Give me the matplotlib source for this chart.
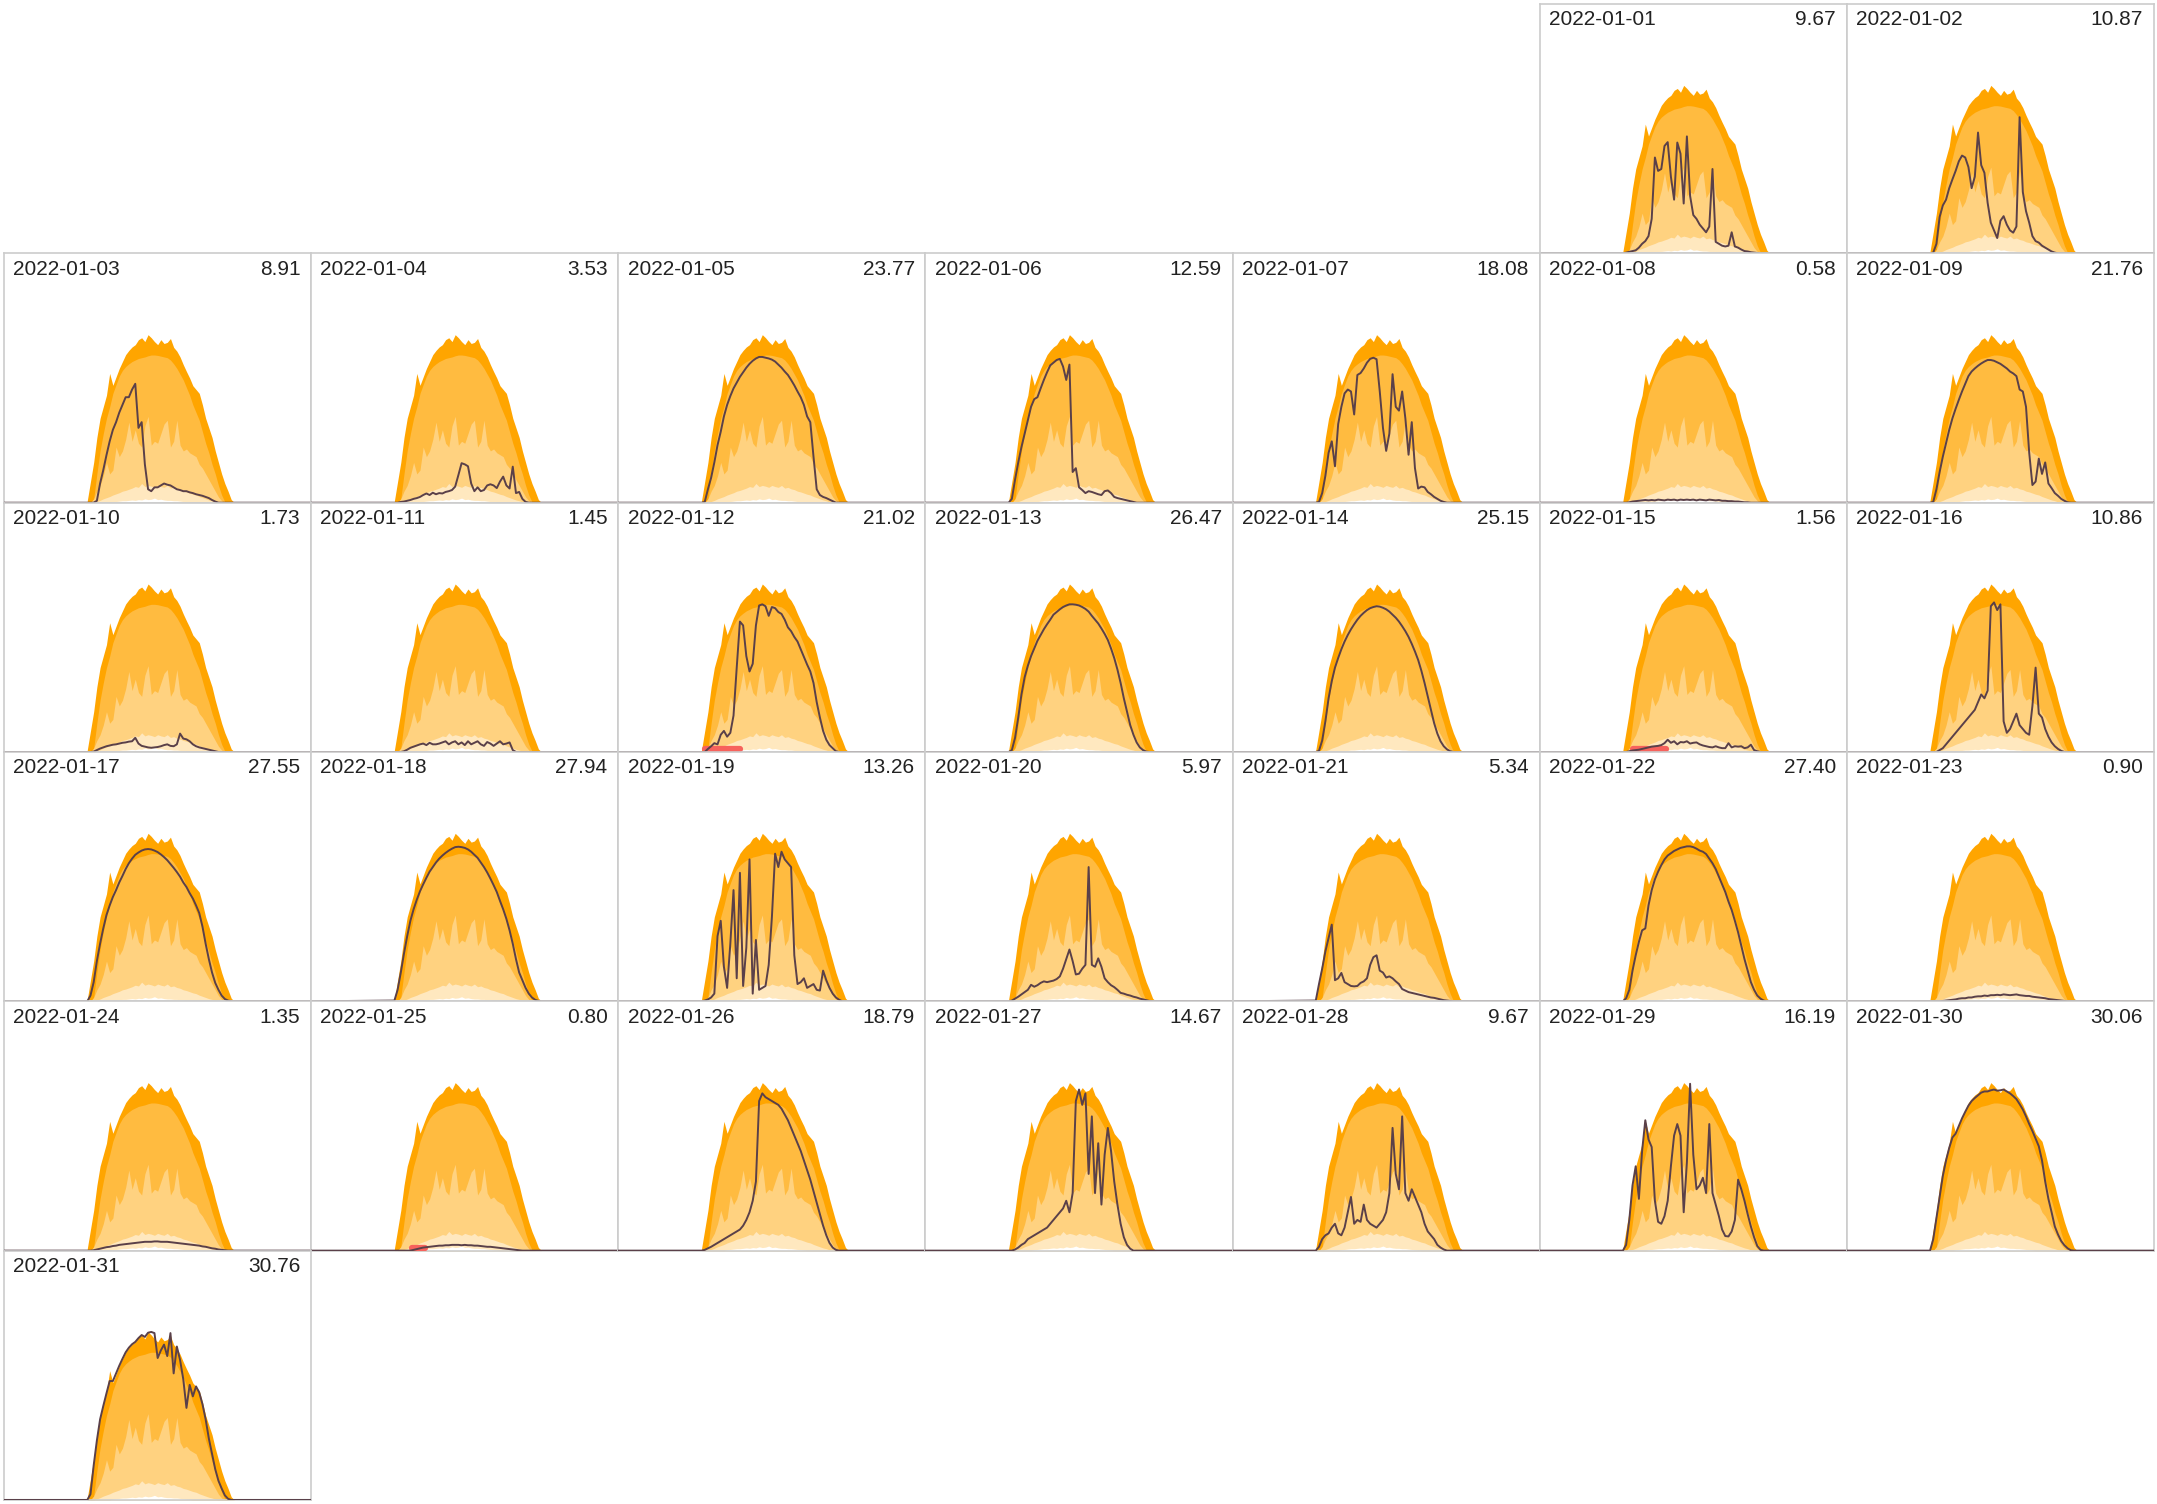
import datetime
import numpy as np
import matplotlib
matplotlib.use('Agg')
import matplotlib.pyplot as plt

plt.rcParams['font.family'] = ['Liberation Sans', 'DejaVu Sans']

# 15 minute grid, 6:30 .. 18:00
hours = np.arange(6.5, 18.01, 0.25)

# expected production bands (kW), same for every day
q_max = [0.05, 0.55, 1.05, 1.7, 2.2, 2.5, 2.8, 3.37, 3.06, 3.28, 3.5, 3.68, 3.86, 3.97, 4.06, 4.12,
         4.25, 4.3, 4.2, 4.38, 4.3, 4.2, 4.12, 4.25, 4.15, 4.18, 4.28, 4.05, 3.95, 3.8, 3.6, 3.42,
         3.25, 3.05, 2.95, 2.85, 2.55, 2.2, 1.95, 1.7, 1.35, 1.05, 0.75, 0.5, 0.3, 0.08, 0.0]
q_high = [0, 0, 0.1, 0.75, 1.35, 1.8, 2.2, 2.5, 2.85, 3.08, 3.3, 3.45, 3.55, 3.62, 3.68, 3.72,
          3.76, 3.78, 3.8, 3.83, 3.85, 3.85, 3.84, 3.82, 3.8, 3.78, 3.72, 3.62, 3.5, 3.35, 3.2, 3.0,
          2.8, 2.55, 2.35, 2.15, 1.85, 1.55, 1.3, 1.0, 0.75, 0.45, 0.2, 0.02, 0, 0, 0]
q_mid = [0, 0, 0.1, 0.3, 0.45, 0.7, 1.05, 0.75, 0.85, 1.45, 1.2, 1.35, 1.65, 2.1, 1.6, 1.9,
         1.55, 1.45, 2.0, 2.25, 1.5, 1.6, 1.55, 1.8, 2.05, 2.15, 1.45, 1.6, 2.15, 1.5, 1.35, 1.4,
         1.3, 1.25, 1.2, 1.0, 0.9, 0.75, 0.6, 0.45, 0.3, 0.15, 0.05, 0, 0, 0, 0]
q_low = [0, 0, 0, 0.03, 0.06, 0.1, 0.13, 0.16, 0.2, 0.23, 0.26, 0.3, 0.32, 0.35, 0.38, 0.42,
         0.4, 0.5, 0.42, 0.45, 0.43, 0.4, 0.45, 0.42, 0.4, 0.45, 0.38, 0.4, 0.36, 0.34, 0.3, 0.28,
         0.25, 0.22, 0.2, 0.16, 0.13, 0.1, 0.07, 0.05, 0.02, 0, 0, 0, 0, 0, 0]
q_min = [0, 0, 0, 0, 0, 0, 0, 0, 0.02, 0.03, 0.04, 0.05, 0.05, 0.06, 0.07, 0.06,
         0.08, 0.07, 0.1, 0.08, 0.09, 0.12, 0.08, 0.09, 0.07, 0.06, 0.06, 0.05, 0.05, 0.04, 0.03, 0.02,
         0.01, 0, 0, 0, 0, 0, 0, 0, 0, 0, 0, 0, 0, 0, 0]

# measured production per day (kW)
d01 = [0, 0.02, 0.04, 0.06, 0.08, 0.15, 0.25, 0.32, 0.45, 0.9, 2.5, 2.15, 2.2, 2.8, 2.9, 2.0,
       1.4, 2.89, 2.6, 1.3, 3.05, 1.5, 1.0, 0.9, 0.75, 0.65, 0.55, 0.7, 2.2, 0.3, 0.25, 0.2,
       0.18, 0.2, 0.55, 0.18, 0.15, 0.1, 0.06, 0.05, 0.03, 0.02, 0.01, 0, 0, 0, 0]
d02 = [0, 0.02, 0.25, 0.95, 1.25, 1.4, 1.7, 1.93, 2.15, 2.4, 2.55, 2.5, 2.25, 1.7, 2.0, 3.15,
       2.3, 2.1, 1.32, 0.8, 0.6, 0.4, 0.85, 0.97, 0.75, 0.6, 0.54, 0.7, 3.55, 1.6, 1.1, 0.8,
       0.45, 0.32, 0.28, 0.2, 0.15, 0.1, 0.05, 0.02, 0, 0, 0, 0, 0, 0, 0]
d03 = [0, 0, 0, 0.05, 0.5, 0.85, 1.24, 1.6, 1.9, 2.1, 2.35, 2.55, 2.75, 2.75, 2.95, 3.1,
       1.95, 2.1, 1.0, 0.35, 0.3, 0.4, 0.4, 0.45, 0.5, 0.47, 0.45, 0.4, 0.35, 0.33, 0.3, 0.3,
       0.27, 0.25, 0.22, 0.2, 0.18, 0.15, 0.12, 0.07, 0.03, 0, 0, 0, 0, 0, 0]
d04 = [0, 0, 0.02, 0.03, 0.05, 0.07, 0.1, 0.12, 0.15, 0.2, 0.24, 0.2, 0.26, 0.22, 0.25, 0.24,
       0.28, 0.3, 0.33, 0.42, 0.72, 1.03, 1.0, 0.95, 0.5, 0.3, 0.4, 0.3, 0.33, 0.45, 0.48, 0.45,
       0.38, 0.55, 0.68, 0.45, 0.37, 0.94, 0.25, 0.28, 0.1, 0.02, 0, 0, 0, 0, 0]
d05 = [0, 0.02, 0.35, 0.65, 1.05, 1.5, 1.85, 2.25, 2.55, 2.78, 2.98, 3.13, 3.28, 3.4, 3.52, 3.62,
       3.7, 3.76, 3.8, 3.8, 3.78, 3.76, 3.73, 3.68, 3.6, 3.52, 3.42, 3.33, 3.2, 3.06, 2.9, 2.75,
       2.55, 2.25, 2.1, 1.2, 0.35, 0.2, 0.15, 0.12, 0.08, 0.04, 0, 0, 0, 0, 0]
d06 = [0, 0.1, 0.6, 1.05, 1.45, 1.8, 2.15, 2.5, 2.7, 2.75, 2.98, 3.2, 3.4, 3.58, 3.65, 3.72,
       3.75, 3.55, 3.2, 3.6, 0.8, 0.9, 0.4, 0.33, 0.25, 0.3, 0.28, 0.25, 0.22, 0.2, 0.3, 0.32,
       0.25, 0.15, 0.12, 0.1, 0.08, 0.06, 0.04, 0.02, 0, 0, 0, 0, 0, 0, 0]
d07 = [0, 0.02, 0.25, 0.7, 1.3, 1.6, 0.95, 2.05, 2.5, 2.85, 2.95, 2.9, 2.3, 3.33, 3.38, 3.5,
       3.65, 3.75, 3.78, 3.74, 2.9, 1.95, 1.35, 1.8, 3.35, 2.5, 2.4, 2.9, 2.2, 1.25, 2.1, 0.9,
       0.37, 0.42, 0.4, 0.28, 0.22, 0.15, 0.1, 0.05, 0.02, 0, 0, 0, 0, 0, 0]
d08 = [0, 0, 0.01, 0.03, 0.04, 0.05, 0.06, 0.07, 0.06, 0.07, 0.06, 0.08, 0.07, 0.06, 0.08, 0.07,
       0.08, 0.06, 0.08, 0.07, 0.08, 0.07, 0.08, 0.06, 0.08, 0.07, 0.06, 0.08, 0.07, 0.06, 0.07, 0.05,
       0.05, 0.04, 0.04, 0.03, 0.03, 0.02, 0.01, 0.01, 0, 0, 0, 0, 0, 0, 0]
d09 = [0, 0.02, 0.35, 0.8, 1.2, 1.55, 1.9, 2.2, 2.45, 2.68, 2.9, 3.1, 3.3, 3.42, 3.5, 3.57,
       3.63, 3.68, 3.72, 3.72, 3.7, 3.66, 3.62, 3.56, 3.5, 3.42, 3.37, 3.3, 2.95, 2.9, 2.5, 1.3,
       0.46, 0.55, 1.15, 0.75, 1.05, 0.5, 0.38, 0.25, 0.18, 0.1, 0.05, 0.01, 0, 0, 0]
d10 = [0, 0, 0.01, 0.05, 0.09, 0.12, 0.15, 0.17, 0.19, 0.2, 0.22, 0.24, 0.25, 0.27, 0.28, 0.37,
       0.22, 0.16, 0.14, 0.12, 0.11, 0.12, 0.13, 0.15, 0.18, 0.2, 0.16, 0.15, 0.2, 0.48, 0.35, 0.33,
       0.28, 0.2, 0.15, 0.12, 0.1, 0.08, 0.06, 0.04, 0.02, 0, 0, 0, 0, 0, 0]
d11 = [0, 0, 0, 0.02, 0.06, 0.11, 0.14, 0.17, 0.2, 0.22, 0.18, 0.24, 0.2, 0.2, 0.22, 0.25,
       0.28, 0.2, 0.25, 0.28, 0.2, 0.25, 0.18, 0.28, 0.2, 0.24, 0.28, 0.2, 0.16, 0.26, 0.22, 0.16,
       0.22, 0.28, 0.2, 0.22, 0.25, 0.05, 0, 0, 0, 0, 0, 0, 0, 0, 0]
d12 = [0, 0, 0.08, 0.15, 0.23, 0.2, 0.45, 0.55, 0.4, 0.5, 0.95, 2.2, 3.4, 3.3, 2.5, 2.1,
       2.3, 3.3, 3.82, 3.85, 3.8, 3.55, 3.78, 3.75, 3.65, 3.6, 3.45, 3.25, 3.15, 3.0, 2.88, 2.68,
       2.48, 2.28, 2.1, 1.8, 1.3, 0.9, 0.55, 0.32, 0.18, 0.1, 0.02, 0, 0, 0, 0]
d13 = [0, 0.05, 0.37, 0.9, 1.5, 1.95, 2.25, 2.5, 2.7, 2.9, 3.05, 3.2, 3.33, 3.45, 3.58, 3.65,
       3.72, 3.78, 3.82, 3.85, 3.85, 3.84, 3.82, 3.78, 3.73, 3.66, 3.55, 3.45, 3.35, 3.22, 3.08, 2.92,
       2.7, 2.45, 2.15, 1.8, 1.4, 1.05, 0.7, 0.45, 0.25, 0.12, 0.05, 0.01, 0, 0, 0]
d14 = [0, 0.03, 0.3, 0.8, 1.4, 1.85, 2.2, 2.45, 2.68, 2.88, 3.05, 3.2, 3.33, 3.45, 3.55, 3.63,
       3.7, 3.75, 3.78, 3.8, 3.79, 3.76, 3.72, 3.66, 3.58, 3.5, 3.4, 3.28, 3.15, 3.0, 2.82, 2.62,
       2.4, 2.12, 1.8, 1.45, 1.1, 0.75, 0.48, 0.28, 0.15, 0.07, 0.02, 0, 0, 0, 0]
d15 = [0, 0, 0.02, 0.04, 0.05, 0.06, 0.08, 0.1, 0.12, 0.14, 0.15, 0.16, 0.18, 0.23, 0.32, 0.24,
       0.28, 0.2, 0.26, 0.25, 0.28, 0.22, 0.24, 0.25, 0.2, 0.17, 0.15, 0.13, 0.12, 0.15, 0.12, 0.1,
       0.1, 0.23, 0.12, 0.15, 0.14, 0.15, 0.1, 0.12, 0.19, 0.05, 0.02, 0, 0, 0, 0]
d16 = [0, 0, 0, 0.05, 0.1, 0.2, 0.3, 0.4, 0.5, 0.6, 0.7, 0.8, 0.9, 1.0, 1.1, 1.3,
       1.5, 1.4, 1.6, 3.8, 3.9, 3.7, 3.85, 0.8, 0.5, 0.6, 0.8, 1.0, 0.7, 0.6, 0.5, 0.45,
       1.2, 2.2, 1.0, 0.9, 0.6, 0.4, 0.25, 0.15, 0.08, 0.03, 0, 0, 0, 0, 0]
d17 = [0, 0.15, 0.5, 1.05, 1.5, 1.9, 2.25, 2.5, 2.72, 2.9, 3.1, 3.27, 3.45, 3.6, 3.72, 3.82,
       3.88, 3.93, 3.96, 3.97, 3.96, 3.93, 3.89, 3.83, 3.76, 3.68, 3.58, 3.48, 3.37, 3.25, 3.1, 2.98,
       2.82, 2.68, 2.5, 2.3, 1.95, 1.5, 1.1, 0.75, 0.48, 0.3, 0.15, 0.06, 0.02, 0, 0]
d18 = [0.02, 0.3, 0.75, 1.25, 1.7, 2.1, 2.4, 2.65, 2.87, 3.05, 3.22, 3.38, 3.5, 3.62, 3.72, 3.8,
       3.87, 3.93, 3.98, 4.02, 4.03, 4.02, 4.0, 3.96, 3.9, 3.82, 3.74, 3.62, 3.5, 3.36, 3.2, 3.03,
       2.85, 2.62, 2.4, 2.15, 1.85, 1.5, 1.1, 0.75, 0.55, 0.35, 0.2, 0.1, 0.04, 0.01, 0]
d19 = [0, 0.02, 0.05, 0.1, 0.2, 1.7, 2.1, 0.9, 0.35, 1.5, 2.9, 0.6, 3.35, 0.4, 1.4, 3.7,
       0.2, 1.6, 0.3, 0.35, 0.4, 0.95, 2.2, 3.85, 3.5, 3.9, 3.7, 3.6, 3.5, 1.2, 0.45, 0.5,
       0.6, 0.35, 0.4, 0.45, 0.3, 0.28, 0.8, 0.55, 0.35, 0.2, 0.1, 0.04, 0, 0, 0]
d20 = [0, 0.02, 0.07, 0.12, 0.18, 0.24, 0.3, 0.43, 0.38, 0.42, 0.48, 0.52, 0.5, 0.52, 0.54, 0.58,
       0.65, 0.85, 1.1, 1.35, 1.05, 0.7, 0.72, 0.85, 0.95, 3.5, 0.95, 0.9, 1.12, 0.9, 0.6, 0.5,
       0.42, 0.37, 0.3, 0.22, 0.2, 0.17, 0.15, 0.12, 0.1, 0.07, 0.05, 0.03, 0.01, 0, 0]
d21 = [0.02, 0.45, 0.85, 1.3, 1.65, 2.0, 0.55, 0.6, 0.74, 0.5, 0.45, 0.4, 0.39, 0.4, 0.48, 0.52,
       0.6, 0.95, 1.15, 1.2, 0.8, 0.75, 0.62, 0.65, 0.6, 0.52, 0.45, 0.32, 0.28, 0.24, 0.22, 0.2,
       0.18, 0.16, 0.14, 0.12, 0.1, 0.09, 0.07, 0.05, 0.03, 0.02, 0.01, 0, 0, 0, 0]
d22 = [0, 0.08, 0.3, 0.8, 1.2, 1.55, 1.85, 1.9, 2.5, 2.9, 3.18, 3.38, 3.55, 3.7, 3.8, 3.86,
       3.92, 3.96, 4.0, 4.02, 4.04, 4.04, 4.02, 3.98, 3.93, 3.9, 3.84, 3.72, 3.6, 3.45, 3.25, 3.05,
       2.85, 2.6, 2.38, 2.1, 1.8, 1.45, 1.1, 0.8, 0.5, 0.3, 0.15, 0.07, 0.02, 0, 0]
d23 = [0, 0, 0, 0, 0.01, 0.02, 0.03, 0.04, 0.05, 0.07, 0.08, 0.08, 0.1, 0.1, 0.12, 0.13,
       0.13, 0.15, 0.14, 0.16, 0.16, 0.17, 0.16, 0.18, 0.17, 0.16, 0.17, 0.18, 0.16, 0.15, 0.14, 0.14,
       0.12, 0.11, 0.1, 0.09, 0.08, 0.06, 0.05, 0.04, 0.03, 0.02, 0.01, 0, 0, 0, 0]
d24 = [0, 0, 0.01, 0.03, 0.05, 0.07, 0.09, 0.1, 0.12, 0.13, 0.15, 0.16, 0.17, 0.18, 0.19, 0.2,
       0.21, 0.22, 0.23, 0.23, 0.23, 0.24, 0.24, 0.23, 0.23, 0.23, 0.22, 0.21, 0.2, 0.19, 0.18, 0.17,
       0.16, 0.15, 0.14, 0.13, 0.11, 0.1, 0.08, 0.06, 0.05, 0.03, 0.02, 0.01, 0, 0, 0]
d25 = [0, 0, 0, 0, 0, 0, 0.02, 0.04, 0.06, 0.08, 0.09, 0.1, 0.11, 0.12, 0.13, 0.13,
       0.14, 0.14, 0.15, 0.15, 0.15, 0.14, 0.15, 0.14, 0.14, 0.13, 0.13, 0.12, 0.11, 0.1, 0.1, 0.09,
       0.08, 0.07, 0.06, 0.05, 0.04, 0.03, 0.02, 0.01, 0, 0, 0, 0, 0, 0, 0]
d26 = [0, 0.02, 0.06, 0.1, 0.15, 0.2, 0.25, 0.3, 0.35, 0.4, 0.45, 0.5, 0.55, 0.65, 0.8, 1.0,
       1.3, 1.8, 3.9, 4.1, 4.0, 3.95, 3.9, 3.85, 3.8, 3.7, 3.55, 3.4, 3.2, 3.0, 2.8, 2.6,
       2.35, 2.1, 1.85, 1.55, 1.25, 0.95, 0.65, 0.4, 0.2, 0.08, 0.02, 0, 0, 0, 0]
d27 = [0, 0, 0.03, 0.08, 0.15, 0.2, 0.3, 0.35, 0.4, 0.45, 0.5, 0.55, 0.6, 0.7, 0.8, 0.9,
       1.0, 1.1, 1.3, 1.0, 1.5, 3.9, 4.2, 3.8, 4.1, 2.0, 3.5, 1.5, 2.8, 1.2, 2.5, 3.2,
       2.6, 1.8, 1.2, 0.7, 0.35, 0.15, 0.05, 0, 0, 0, 0, 0, 0, 0, 0]
d28 = [0, 0.1, 0.3, 0.4, 0.45, 0.6, 0.7, 0.45, 0.4, 0.6, 1.0, 1.4, 0.7, 0.8, 0.75, 1.2,
       0.8, 0.7, 0.65, 0.6, 0.7, 0.8, 1.0, 1.5, 3.2, 2.0, 1.6, 3.5, 1.5, 1.3, 1.6, 1.4,
       1.2, 1.0, 0.7, 0.5, 0.4, 0.3, 0.15, 0.08, 0.03, 0, 0, 0, 0, 0, 0]
d29 = [0, 0.15, 0.8, 1.7, 2.2, 1.35, 2.6, 3.4, 2.9, 2.7, 1.3, 0.75, 0.7, 0.9, 1.3, 2.2,
       3.0, 3.3, 3.0, 1.0, 2.3, 4.35, 2.5, 1.6, 1.7, 1.9, 1.5, 3.3, 1.5, 1.2, 0.9, 0.55,
       0.38, 0.37, 0.5, 0.8, 1.85, 1.6, 1.3, 0.95, 0.63, 0.35, 0.12, 0.02, 0, 0, 0]
d30 = [0, 0.3, 0.85, 1.4, 1.95, 2.35, 2.68, 2.95, 3.05, 3.25, 3.45, 3.62, 3.78, 3.9, 3.98, 4.05,
       4.12, 4.15, 4.15, 4.18, 4.2, 4.17, 4.18, 4.2, 4.15, 4.1, 4.03, 3.95, 3.82, 3.68, 3.5, 3.3,
       3.12, 2.92, 2.72, 2.35, 1.8, 1.35, 1.0, 0.63, 0.42, 0.25, 0.14, 0.06, 0.01, 0, 0]
d31 = [0, 0.15, 0.9, 1.55, 2.1, 2.45, 2.78, 3.1, 3.1, 3.3, 3.5, 3.68, 3.85, 3.97, 4.06, 4.12,
       4.22, 4.3, 4.25, 4.36, 4.38, 4.35, 3.7, 3.9, 4.05, 3.75, 4.35, 3.3, 4.0, 3.65, 3.15, 2.4,
       3.0, 2.7, 2.96, 2.8, 2.5, 2.1, 1.6, 1.2, 0.8, 0.5, 0.3, 0.12, 0.03, 0, 0]

daily = [d01, d02, d03, d04, d05, d06, d07, d08, d09, d10, d11, d12, d13, d14, d15, d16,
         d17, d18, d19, d20, d21, d22, d23, d24, d25, d26, d27, d28, d29, d30, d31]

totals = ['9.67', '10.87', '8.91', '3.53', '23.77', '12.59', '18.08', '0.58', '21.76', '1.73',
          '1.45', '21.02', '26.47', '25.15', '1.56', '10.86', '27.55', '27.94', '13.26', '5.97',
          '5.34', '27.40', '0.90', '1.35', '0.80', '18.79', '14.67', '9.67', '16.19', '30.06', '30.76']

# periods flagged in red (day of month, start hour, end hour)
red_days = [12, 15, 25]
red_start = [6.75, 7.25, 7.85]
red_end = [9.5, 9.9, 8.9]

band_colors = ['#ffa500', '#ffbb40', '#ffd280', '#ffe8bf', '#ffffff']
line_color = '#5a4049'

fig = plt.figure(figsize=(21.57, 15.04), dpi=100)
gs = fig.add_gridspec(6, 7, left=0.0019, right=0.9986, top=0.9973, bottom=0.0027,
                      wspace=0, hspace=0)

first = datetime.date(2022, 1, 1)
offset = first.weekday()

for i, vals in enumerate(daily):
    day = first + datetime.timedelta(days=i)
    cell = i + offset
    ax = fig.add_subplot(gs[cell // 7, cell % 7])

    for q, c in zip([q_max, q_high, q_mid, q_low, q_min], band_colors):
        ax.fill_between(hours, q, color=c, lw=0)

    x = np.concatenate([[0], hours, [24]])
    y = np.concatenate([[0], vals, [0]])
    ax.plot(x, y, color=line_color, lw=1.4, zorder=5)

    for d, s, e in zip(red_days, red_start, red_end):
        if d == i + 1:
            ax.plot([s, e], [0.08, 0.08], color='#f7625c', lw=4.5,
                    solid_capstyle='round', zorder=4)

    ax.text(0.03, 0.975, day.isoformat(), transform=ax.transAxes, ha='left', va='top',
            fontsize=15, color='#222222')
    ax.text(0.965, 0.975, totals[i], transform=ax.transAxes, ha='right', va='top',
            fontsize=15, color='#222222')

    ax.set_xlim(0, 24)
    ax.set_ylim(0, 6.5)
    ax.set_xticks([])
    ax.set_yticks([])
    for sp in ax.spines.values():
        sp.set_color('#cccccc')
        sp.set_linewidth(1.2)

fig.savefig('out.png', dpi=100)
